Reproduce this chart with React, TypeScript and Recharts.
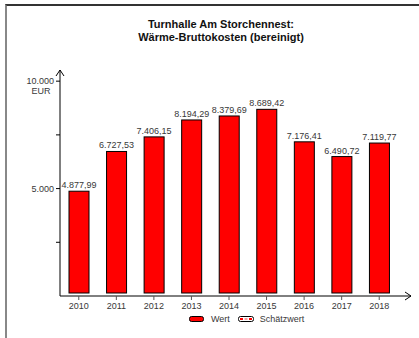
import { Bar, BarChart, LabelList, Legend, XAxis, YAxis } from "recharts";

const YEARS = ["2010", "2011", "2012", "2013", "2014", "2015", "2016", "2017", "2018"];
const WERT = [4877.99, 6727.53, 7406.15, 8194.29, 8379.69, 8689.42, 7176.41, 6490.72, 7119.77];
const SCHAETZWERT: (number | null)[] = [null, null, null, null, null, null, null, null, null];
const Y_TICKS = [2500, 5000, 7500, 10000];
const Y_LABELED = [5000, 10000];
const UNIT = "EUR";
const TITLE = ["Turnhalle Am Storchennest:", "Wärme-Bruttokosten (bereinigt)"];
const LEGEND_ORDER = ["wert", "schaetzwert"];

const FONT = '"Liberation Sans", Arial, sans-serif';
const TEXT = "#383838";

const rows = YEARS.map((year, i) => ({ year, wert: WERT[i], schaetzwert: SCHAETZWERT[i] }));

// German number format: 8689.42 -> "8.689,42"
function deNum(v: number, digits = 2) {
  const [int, dec] = v.toFixed(digits).split(".");
  const grouped = int.replace(/\B(?=(\d{3})+(?!\d))/g, ".");
  return dec ? `${grouped},${dec}` : grouped;
}

// bars stop a few px above the axis line, like the original
function BarShape(props: any) {
  const { x, y, width, height, fill } = props;
  if (height == null || !isFinite(height) || height <= 3) return null;
  return <rect x={x} y={y} width={width} height={height - 3} fill={fill} stroke="#000" strokeWidth={1} />;
}

function YTick(props: any) {
  const { x, y, payload } = props;
  if (!Y_LABELED.includes(payload.value)) return null;
  const isTop = payload.value === Math.max(...Y_LABELED);
  return (
    <g fontFamily={FONT} fontSize={9} fill={TEXT}>
      <text x={x} y={y} dy="0.35em" textAnchor="end">
        {deNum(payload.value, 0)}
      </text>
      {isTop && (
        <text x={x - 13} y={y + 10} dy="0.35em" textAnchor="middle">
          {UNIT}
        </text>
      )}
    </g>
  );
}

function LegendContent(props: any) {
  const payload = [...(props.payload ?? [])].sort(
    (a: any, b: any) => LEGEND_ORDER.indexOf(a.dataKey) - LEGEND_ORDER.indexOf(b.dataKey)
  );
  return (
    <div style={{ display: "flex", alignItems: "center", fontFamily: FONT, fontSize: 9, color: TEXT }}>
      {payload.map((entry: any) => (
        <span key={entry.value} style={{ display: "flex", alignItems: "center", marginRight: 8 }}>
          <svg width={16} height={7} style={{ marginRight: 6 }}>
            {entry.dataKey === "wert" ? (
              <rect x={0.5} y={0.5} width={14} height={5} rx={2} fill="#ff0000" stroke="#000" />
            ) : (
              <g>
                <rect x={0.5} y={0.5} width={15} height={5} rx={2} fill="#fff" stroke="#000" />
                <rect x={2} y={2} width={3} height={2} fill="#ff0000" />
                <rect x={11} y={2} width={3} height={2} fill="#ff0000" />
                <rect x={6.5} y={2} width={3} height={2} fill="#f4a0a0" />
              </g>
            )}
          </svg>
          {entry.value}
        </span>
      ))}
    </div>
  );
}

export default function App() {
  return (
    <div style={{ position: "absolute", left: 0, top: 0, width: 419, height: 338, background: "#fff", overflow: "hidden" }}>
      <style>{"html,body{margin:0;overflow:hidden;background:#fff}"}</style>
      <div
        style={{
          position: "absolute",
          left: 5,
          top: 4,
          width: 412,
          height: 332,
          borderTop: "2px solid #333",
          borderLeft: "2px solid #888",
        }}
      />
      <div
        style={{
          position: "absolute",
          left: 0,
          top: 18,
          width: 442,
          textAlign: "center",
          fontFamily: FONT,
          fontWeight: "bold",
          fontSize: 11,
          lineHeight: "13px",
          color: "#111",
        }}
      >
        {TITLE.map((t) => (
          <div key={t}>{t}</div>
        ))}
      </div>
      <div style={{ position: "absolute", left: 0, top: 0 }}>
        <BarChart width={419} height={338} data={rows} margin={{ top: 70, right: 8, bottom: 12, left: 5 }}>
          <defs>
            <marker
              id="axisArrow"
              markerUnits="userSpaceOnUse"
              markerWidth={10}
              markerHeight={10}
              refX={6}
              refY={4}
              orient="auto-start-reverse"
              overflow="visible"
            >
              <path d="M0,0 L6,4 L0,8" fill="none" stroke="#000" strokeWidth={1} />
            </marker>
          </defs>
          <XAxis
            dataKey="year"
            height={30}
            padding={{ left: 0, right: 13 }}
            axisLine={{ stroke: "#000", markerEnd: "url(#axisArrow)" }}
            tickLine={{ stroke: "#555" }}
            tickSize={4}
            tickMargin={3}
            tick={{ fontFamily: FONT, fontSize: 9, fill: TEXT }}
            interval={0}
          />
          <YAxis
            width={55}
            domain={[0, 10520]}
            ticks={Y_TICKS}
            axisLine={{ stroke: "#000", markerStart: "url(#axisArrow)" }}
            tickLine={{ stroke: "#000" }}
            tickSize={4}
            tickMargin={2}
            tick={<YTick />}
            interval={0}
          />
          <Legend
            layout="horizontal"
            align="center"
            verticalAlign="middle"
            content={<LegendContent />}
            wrapperStyle={{ top: 314, left: 189, width: "auto", height: 12 }}
          />
          <Bar
            dataKey="wert"
            name="Wert"
            stackId="a"
            fill="#ff0000"
            barSize={20}
            shape={<BarShape />}
            isAnimationActive={false}
          >
            <LabelList
              dataKey="wert"
              position="top"
              offset={3}
              formatter={(v: any) => deNum(Number(v))}
              style={{ fontFamily: FONT, fontSize: 9, fill: TEXT }}
            />
          </Bar>
          <Bar
            dataKey="schaetzwert"
            name="Schätzwert"
            stackId="a"
            fill="#ff0000"
            barSize={20}
            shape={<BarShape />}
            isAnimationActive={false}
          />
        </BarChart>
      </div>
    </div>
  );
}
